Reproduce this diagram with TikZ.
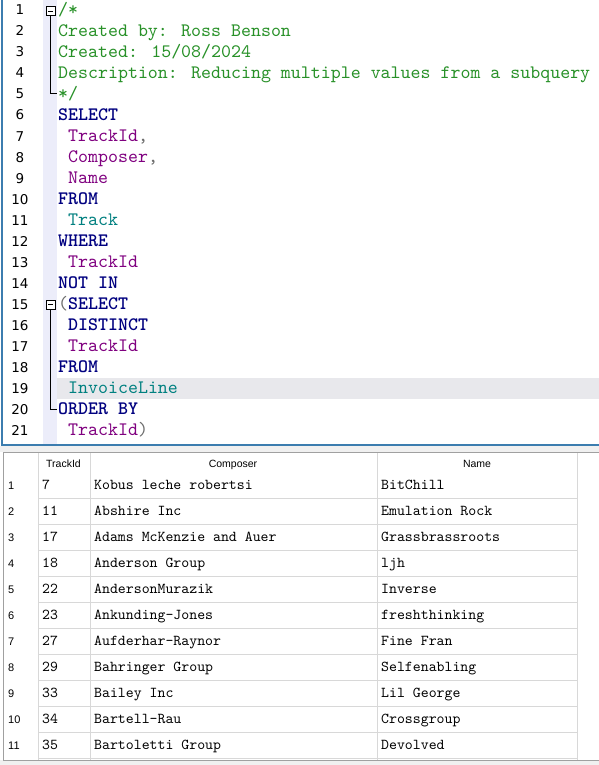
\documentclass[tikz,border=0pt]{standalone}
\usepackage{fontspec}
\newfontfamily\codefont{lmmono10-regular.otf}[BoldFont=lmmonolt10-bold.otf]
\newfontfamily\numfont{DejaVu Sans}
\newfontfamily\gridfont{Liberation Sans}
\newcommand{\codesize}{\fontsize{19pt}{22pt}\selectfont}
\newcommand{\cellsize}{\fontsize{15.1pt}{17pt}\selectfont}
\definecolor{kwblue}{RGB}{0,0,128}
\definecolor{colpurple}{RGB}{128,0,128}
\definecolor{tblteal}{RGB}{0,128,128}
\definecolor{cmtgreen}{RGB}{40,145,40}
\definecolor{punct}{RGB}{110,110,110}
\definecolor{edgeblue}{RGB}{60,125,175}
\definecolor{gutter}{RGB}{236,237,250}
\definecolor{curline}{RGB}{232,232,236}
\definecolor{gridline}{RGB}{216,216,216}
\definecolor{gridedge}{RGB}{160,160,160}
\definecolor{strip}{RGB}{240,240,240}

\tikzset{
  code/.style={anchor=west, inner sep=0pt, text height=12pt, text depth=1pt, font=\codefont\codesize},
  comment/.style={code, text=cmtgreen},
  keyword/.style={code, text=kwblue, font=\codefont\codesize\bfseries},
  column/.style={code, text=colpurple},
  table/.style={code, text=tblteal},
  lnum/.style={inner sep=0pt, text height=10pt, text depth=0pt, font=\numfont\fontsize{13.5pt}{15pt}\selectfont},
  cell/.style={anchor=west, inner sep=0pt, text height=9pt, text depth=0pt, font=\codefont\cellsize},
  rownum/.style={anchor=west, inner sep=0pt, text height=8pt, text depth=0pt, font=\gridfont\fontsize{11pt}{13pt}\selectfont},
  header/.style={inner sep=0pt, text height=8pt, text depth=0pt, font=\gridfont\fontsize{10.5pt}{13pt}\selectfont},
  foldbox/.style={draw=black, fill=white, line width=0.8pt},
  foldline/.style={draw=black, line width=0.8pt}
}

\begin{document}
\begin{tikzpicture}[x=1pt, y=1pt]
  \useasboundingbox (0,0) rectangle (599,-765);
  \fill[white] (0,0) rectangle (599,-765);

  % editor background
  \fill[gutter] (43,0) rectangle (57,-445);
  \fill[curline] (57,-377.5) rectangle (599,-398.5);
  \draw[edgeblue, line width=1.2pt] (2,0) -- (2,-445) -- (599,-445);

  % line numbers
  \foreach \i in {1,...,21}
    \draw (20, {-10-21*(\i-1)}) node[lnum](ln\i){\i};

  % fold markers
  \draw[foldline] (50.5,-15.5) -- (50.5,-93) -- (57,-93);
  \draw[foldbox] (46,-6.5) rectangle (55,-15.5);
  \draw[foldline] (48,-11) -- (53,-11);
  \draw[foldline] (50.5,-309) -- (50.5,-409) -- (57,-409);
  \draw[foldbox] (46,-300) rectangle (55,-309);
  \draw[foldline] (48,-304.5) -- (53,-304.5);

  % query text
  \draw (58, -10)node[comment](l1){/*};
  \draw (58, -31)node[comment](l2){Created by: Ross Benson};
  \draw (58, -52)node[comment](l3){Created: 15/08/2024};
  \draw (58, -73)node[comment](l4){Description: Reducing multiple values from a subquery};
  \draw (58, -94)node[comment](l5){*/};
  \draw (58, -115)node[keyword](l6){SELECT};
  \draw (68, -136)node[column](l7){TrackId{\color{punct},}};
  \draw (68, -157)node[column](l8){Composer{\color{punct},}};
  \draw (68, -178)node[column](l9){Name};
  \draw (58, -199)node[keyword](l10){FROM};
  \draw (68, -220)node[table](l11){Track};
  \draw (58, -241)node[keyword](l12){WHERE};
  \draw (68, -262)node[column](l13){TrackId};
  \draw (58, -283)node[keyword](l14){NOT IN};
  \draw (58, -304)node[keyword](l15){{\mdseries\color{punct}(}SELECT};
  \draw (68, -325)node[keyword](l16){DISTINCT};
  \draw (68, -346)node[column](l17){TrackId};
  \draw (58, -367)node[keyword](l18){FROM};
  \draw (68, -388)node[table](l19){InvoiceLine};
  \draw (58, -409)node[keyword](l20){ORDER BY};
  \draw (68, -430)node[column](l21){TrackId{\color{punct})}};

  % result grid
  \fill[strip] (0,-446) rectangle (599,-452);
  \fill[strip] (0,-760) rectangle (599,-765);
  \foreach \y in {498,524,...,758}
    \draw[gridline] (38,-\y) -- (577,-\y);
  \foreach \x in {38,90,377,577}
    \draw[gridline] (\x,-452) -- (\x,-760);
  \draw[gridedge] (599,-452) -- (3,-452) -- (3,-760) -- (599,-760);

  \draw (63.5, -463)node[header](hid){TrackId};
  \draw (233, -463)node[header](hcomp){Composer};
  \draw (477, -463)node[header](hname){Name};

  \foreach \n/\id/\comp/\nm in {1/7/Kobus leche robertsi/BitChill,
      2/11/Abshire Inc/Emulation Rock,
      3/17/Adams McKenzie and Auer/Grassbrassroots,
      4/18/Anderson Group/ljh,
      5/22/AndersonMurazik/Inverse,
      6/23/Ankunding-Jones/freshthinking,
      7/27/Aufderhar-Raynor/Fine Fran,
      8/29/Bahringer Group/Selfenabling,
      9/33/Bailey Inc/Lil George,
      10/34/Bartell-Rau/Crossgroup,
      11/35/Bartoletti Group/Devolved}{
    \draw (8, {-485-26*(\n-1)})node[rownum](r\n){\n};
    \draw (42, {-485-26*(\n-1)})node[cell](id\n){\id};
    \draw (94, {-485-26*(\n-1)})node[cell](comp\n){\comp};
    \draw (381, {-485-26*(\n-1)})node[cell](nm\n){\nm};
  }
\end{tikzpicture}
\end{document}
